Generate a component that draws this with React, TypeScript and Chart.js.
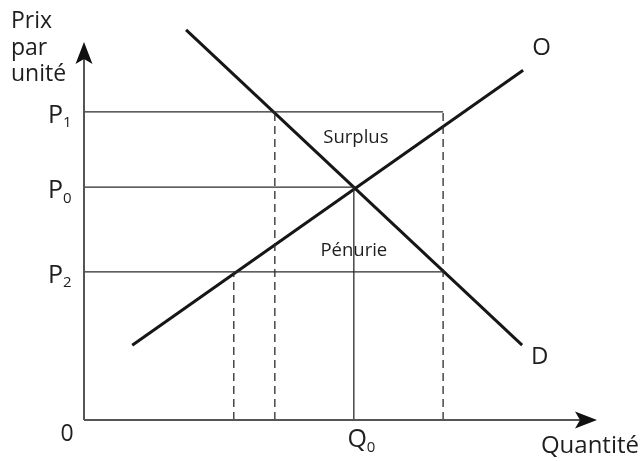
import React, { useEffect, useRef } from "react";
import { Chart, registerables } from "chart.js";

Chart.register(...registerables);

// Price levels (y, 0..100 scale of the price axis)
const priceNames = ["P", "P", "P"];
const priceSubs = ["1", "0", "2"];
const priceValues = [81.5, 61.6, 39.2];

// Quantities on the x axis (0..100)
const qSupplyAtP2 = 29.2;
const qDemandAtP1 = 37.2;
const qEquilibrium = 52.6;
const qOuter = 70.0;

// Curves (end points)
const supplyX = [9.4, 85.6];
const supplyY = [19.8, 92.5];
const demandX = [19.9, 85.4];
const demandY = [103.2, 19.8];

const curveLabels = ["O", "D"];
const axisTitleY = ["Prix", "par", "unité"];
const axisTitleX = "Quantité";
const zoneLabels = ["Surplus", "Pénurie"];
const zoneLabelPos = [
  { x: 53.0, y: 74.6 },
  { x: 52.6, y: 44.8 },
];

const FONT = "'Open Sans', 'DejaVu Sans', sans-serif";

const seg = (x1: number, y1: number, x2: number, y2: number) => [
  { x: x1, y: y1 },
  { x: x2, y: y2 },
];

const labelsPlugin = {
  id: "econLabels",
  afterDatasetsDraw(chart: any) {
    const ctx = chart.ctx as CanvasRenderingContext2D;
    const xs = chart.scales.x;
    const ys = chart.scales.y;
    const x0 = xs.getPixelForValue(0);
    const y0 = ys.getPixelForValue(0);
    const xEnd = xs.getPixelForValue(100);
    const yEnd = ys.getPixelForValue(100);
    ctx.save();
    // arrowheads
    ctx.fillStyle = "#111";
    ctx.beginPath();
    ctx.moveTo(x0, yEnd);
    ctx.lineTo(x0 - 8.5, yEnd + 22);
    ctx.lineTo(x0, yEnd + 17);
    ctx.lineTo(x0 + 8.5, yEnd + 22);
    ctx.closePath();
    ctx.fill();
    ctx.beginPath();
    ctx.moveTo(xEnd, y0);
    ctx.lineTo(xEnd - 22, y0 - 8.5);
    ctx.lineTo(xEnd - 17, y0);
    ctx.lineTo(xEnd - 22, y0 + 8.5);
    ctx.closePath();
    ctx.fill();

    ctx.fillStyle = "#1e1e1e";
    ctx.textBaseline = "alphabetic";
    // y axis title
    ctx.font = `23px ${FONT}`;
    ctx.textAlign = "left";
    axisTitleY.forEach((t, i) => ctx.fillText(t, 11, 28 + i * 26.5));
    // price labels
    priceValues.forEach((v, i) => {
      const py = ys.getPixelForValue(v);
      ctx.font = `25px ${FONT}`;
      ctx.textAlign = "right";
      ctx.fillText(priceNames[i], 63, py + 11);
      ctx.font = `15px ${FONT}`;
      ctx.textAlign = "left";
      ctx.fillText(priceSubs[i], 63, py + 15.5);
    });
    // origin
    ctx.font = `23px ${FONT}`;
    ctx.textAlign = "center";
    ctx.fillText("0", 67, y0 + 21);
    // Q0
    const qx = xs.getPixelForValue(qEquilibrium);
    ctx.font = `25px ${FONT}`;
    ctx.textAlign = "right";
    ctx.fillText("Q", qx + 13, y0 + 27);
    ctx.font = `15px ${FONT}`;
    ctx.textAlign = "left";
    ctx.fillText("0", qx + 13, y0 + 32);
    // x axis title
    ctx.font = `24px ${FONT}`;
    ctx.textAlign = "right";
    ctx.fillText(axisTitleX, 639, y0 + 33);
    // curve labels
    ctx.font = `24px ${FONT}`;
    ctx.textAlign = "left";
    ctx.fillText(curveLabels[0], xs.getPixelForValue(supplyX[1]) + 9, ys.getPixelForValue(supplyY[1]) - 15);
    ctx.fillText(curveLabels[1], xs.getPixelForValue(demandX[1]) + 9, ys.getPixelForValue(demandY[1]) + 19);
    // zone labels
    ctx.font = `18.5px ${FONT}`;
    ctx.textAlign = "center";
    ctx.textBaseline = "middle";
    zoneLabels.forEach((t, i) =>
      ctx.fillText(t, xs.getPixelForValue(zoneLabelPos[i].x), ys.getPixelForValue(zoneLabelPos[i].y))
    );
    ctx.restore();
  },
};

export default function App() {
  const ref = useRef<HTMLCanvasElement>(null);
  useEffect(() => {
    if (!ref.current) return;
    const thin = { borderColor: "#2a2a2a", borderWidth: 1.3 };
    const dashed = { borderColor: "#2a2a2a", borderWidth: 1.3, borderDash: [8, 5] };
    const mk = (data: any, style: any) => ({
      data,
      showLine: true,
      pointRadius: 0,
      pointHoverRadius: 0,
      clip: false,
      borderCapStyle: "butt",
      fill: false,
      ...style,
    });
    const datasets = [
      mk(seg(0, 0, 97, 0), { borderColor: "#555", borderWidth: 2 }),
      mk(seg(0, 0, 0, 96), { borderColor: "#555", borderWidth: 2 }),
      mk(seg(0, priceValues[0], qOuter, priceValues[0]), thin),
      mk(seg(0, priceValues[1], qEquilibrium, priceValues[1]), thin),
      mk(seg(0, priceValues[2], qOuter, priceValues[2]), thin),
      mk(seg(qSupplyAtP2, 0, qSupplyAtP2, priceValues[2]), dashed),
      mk(seg(qDemandAtP1, 0, qDemandAtP1, priceValues[0]), dashed),
      mk(seg(qOuter, 0, qOuter, priceValues[0]), dashed),
      mk(seg(qEquilibrium, 0, qEquilibrium, priceValues[1]), thin),
      mk(seg(supplyX[0], supplyY[0], supplyX[1], supplyY[1]), { borderColor: "#161616", borderWidth: 3 }),
      mk(seg(demandX[0], demandY[0], demandX[1], demandY[1]), { borderColor: "#161616", borderWidth: 3 }),
    ];
    const chart = new Chart(ref.current, {
      type: "scatter",
      data: { datasets },
      options: {
        animation: false,
        responsive: false,
        maintainAspectRatio: false,
        events: [],
        layout: { padding: { left: 84, right: 44, top: 42, bottom: 41 } },
        plugins: { legend: { display: false }, tooltip: { enabled: false } },
        scales: {
          x: { type: "linear", min: 0, max: 100, display: false },
          y: { type: "linear", min: 0, max: 100, display: false },
        },
      },
      plugins: [labelsPlugin],
    } as any);
    return () => chart.destroy();
  }, []);
  return (
    <div style={{ position: "absolute", left: 0, top: 0, width: 641, height: 461, background: "#fff" }}>
      <canvas ref={ref} width={641} height={461} />
    </div>
  );
}
